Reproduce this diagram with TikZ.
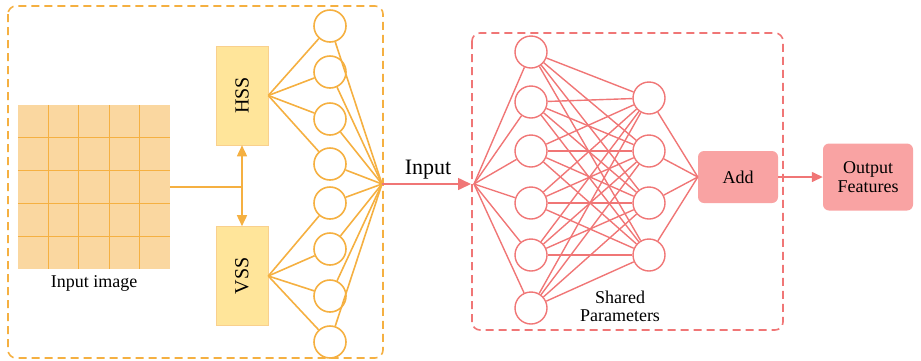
\documentclass[tikz,border=0pt]{standalone}
\usepackage{fontspec}
\setmainfont{Liberation Serif}
\usepackage{xcolor}
\usetikzlibrary{positioning}
\usetikzlibrary{arrows.meta}
\definecolor{orng}{HTML}{F5B041}
\definecolor{gridfill}{HTML}{FAD7A0}
\definecolor{ssfill}{HTML}{FFE59A}
\definecolor{rd}{HTML}{F07676}
\definecolor{addfill}{HTML}{F9A3A3}

\begin{document}
\begin{tikzpicture}[x=1pt, y=-1pt,
    every node/.style={font=\fontsize{18}{18}\selectfont},
    oneuron/.style={circle, draw=orng, line width=1.6pt, fill=white, minimum size=32pt, inner sep=0pt},
    rneuron/.style={circle, draw=rd, line width=1.4pt, fill=white, minimum size=32pt, inner sep=0pt},
    ssbox/.style={draw=orng!60, fill=ssfill, line width=0.6pt, minimum width=52pt, minimum height=99pt, inner sep=0pt},
    redbox/.style={fill=addfill, rounded corners=6pt, minimum width=80pt, minimum height=52pt, inner sep=0pt, align=center},
    oarrow/.style={-{Triangle[length=11pt, width=10pt]}},
    rarrow/.style={-{Triangle[length=13pt, width=12pt]}}]
			    		\useasboundingbox (0,0) rectangle (921,360);
			    		% left part
			    		\draw[orng, line width=1.6pt, dash pattern=on 8pt off 5pt, rounded corners=8pt] (8,6) rectangle (383,358);
			    		\node[fill=gridfill, minimum width=152pt, minimum height=164pt, inner sep=0pt] (img) at (94,187) {};
			    		\foreach \i in {1,...,4} {
			    			\draw[orng, line width=1pt] (img.north west) ++(\i*30.4,0) -- ++(0,164);
			    			\draw[orng, line width=1pt] (img.north west) ++(0,\i*32.8) -- ++(152,0);
			    		}
			    		\node[below=3pt of img] (imglabel) {Input image};
			    		\node[ssbox] (hss) at (242,95.5) {\rotatebox{90}{\fontsize{20}{20}\selectfont HSS}};
			    		\node[ssbox] (vss) at (242,276) {\rotatebox{90}{\fontsize{20}{20}\selectfont VSS}};
			    		\coordinate (split) at (242,187);
			    		\draw[orng, line width=1.6pt] (img.east) -- (split);
			    		\draw[orng, line width=1.6pt, oarrow] (split) -- (hss.south);
			    		\draw[orng, line width=1.6pt, oarrow] (split) -- (vss.north);
			    		\coordinate (merge) at (382,184);
			    		\foreach \y [count=\i] in {26,72,119,164,203,249,296,342}
			    			\node[oneuron] (o\i) at (330,\y) {};
			    		\foreach \i in {1,...,4}
			    			\draw[orng, line width=1.6pt] (hss.east) -- (o\i);
			    		\foreach \i in {5,...,8}
			    			\draw[orng, line width=1.6pt] (vss.east) -- (o\i);
			    		\foreach \i in {1,...,8}
			    			\draw[orng, line width=1.6pt] (o\i) -- (merge);
			    		% right part
			    		\draw[rd, line width=1.6pt, dash pattern=on 8pt off 5pt, rounded corners=8pt] (472,33) rectangle (783,330);
			    		\coordinate (fanin) at (474,184);
			    		\draw[rd, line width=1.6pt, rarrow, shorten >=3pt] (merge) -- (fanin)
			    			node[midway, above=1pt, text=black, font=\fontsize{22}{22}\selectfont] (inlabel) {Input};
			    		\foreach \y [count=\i] in {52,102,151,203,255,308}
			    			\node[rneuron] (a\i) at (531,\y) {};
			    		\foreach \y [count=\i] in {98,151,203,255}
			    			\node[rneuron] (b\i) at (649,\y) {};
			    		\foreach \i in {1,...,6} {
			    			\draw[rd, line width=1.4pt] (fanin) -- (a\i);
			    			\foreach \j in {1,...,4}
			    				\draw[rd, line width=1.4pt] (a\i) -- (b\j);
			    		}
			    		\node[redbox] (add) at (738,177) {Add};
			    		\foreach \j in {1,...,4}
			    			\draw[rd, line width=1.4pt] (b\j) -- (add.west);
			    		\node[redbox, minimum width=90pt, minimum height=67pt] (out) at (868,177) {Output\\[1pt]Features};
			    		\draw[rd, line width=1.4pt, oarrow] (add) -- (out);
			    		\node[align=center] (shared) at (620,306) {Shared\\Parameters};
			    	\end{tikzpicture}
\end{document}
